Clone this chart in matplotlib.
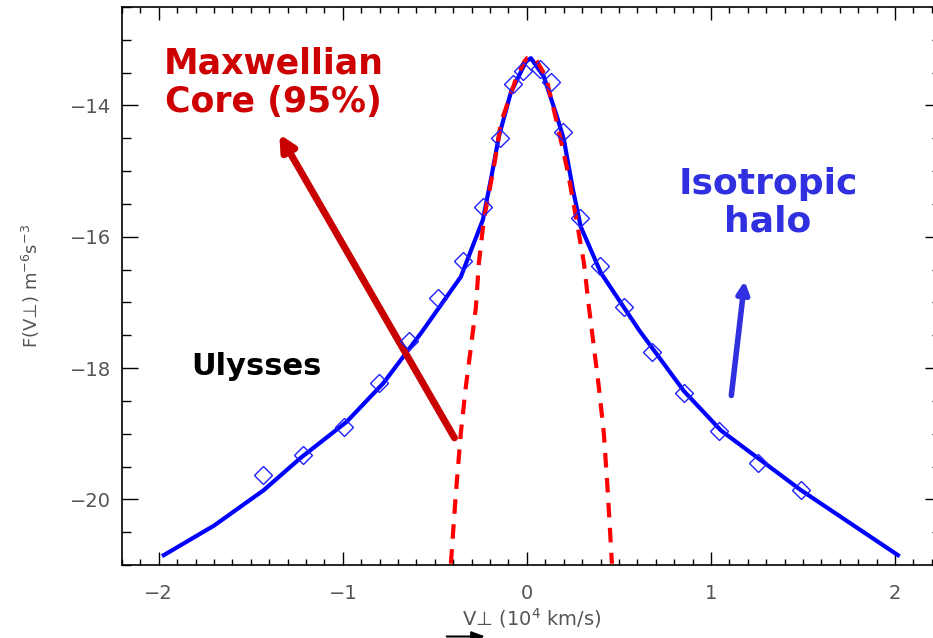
import matplotlib
matplotlib.use("Agg")
import matplotlib.pyplot as plt
from matplotlib.ticker import MultipleLocator

# halo fit (blue solid)
v_fit = [-1.973, -1.70, -1.43, -1.23, -0.98, -0.78, -0.576, -0.359, -0.239, -0.196, -0.152,
         -0.087, -0.005, 0.022, 0.092, 0.168, 0.201, 0.25, 0.293, 0.402, 0.609, 0.853, 1.054,
         1.489, 2.016]
f_fit = [-20.85, -20.40, -19.86, -19.37, -18.82, -18.23, -17.47, -16.61, -15.74, -15.13, -14.47,
         -13.80, -13.33, -13.28, -13.56, -14.21, -14.52, -15.28, -15.85, -16.55, -17.42, -18.35,
         -18.95, -19.86, -20.85]

# maxwellian core (red dashed)
v_core = [-0.413, -0.386, -0.359, -0.332, -0.304, -0.277, -0.261, -0.234, -0.179, -0.141, -0.103,
          -0.06, -0.016, 0.0, 0.045, 0.103, 0.168, 0.223, 0.266, 0.31, 0.337, 0.364, 0.391, 0.418,
          0.44, 0.462]
f_core = [-20.98, -19.91, -18.99, -18.29, -17.68, -17.07, -16.40, -15.74, -14.93, -14.26, -13.95,
          -13.60, -13.34, -13.28, -13.28, -13.56, -14.32, -15.02, -15.69, -16.40, -17.07, -17.68,
          -18.29, -18.99, -19.91, -20.98]

# Ulysses measurements (diamonds)
v_obs = [-1.435, -1.217, -0.995, -0.804, -0.641, -0.484, -0.348, -0.239, -0.147, -0.076, -0.022,
         0.071, 0.130, 0.196, 0.288, 0.397, 0.527, 0.679, 0.853, 1.043, 1.255, 1.489]
f_obs = [-19.63, -19.33, -18.90, -18.23, -17.59, -16.93, -16.37, -15.54, -14.49, -13.68, -13.48,
         -13.45, -13.65, -14.40, -15.71, -16.44, -17.07, -17.76, -18.38, -18.96, -19.45, -19.86]

fig = plt.figure(figsize=(9.33, 6.38), dpi=100)
ax = fig.add_axes([122/933, 1-565/638, 819/933, 558/638])

ax.plot(v_fit, f_fit, color='#0000ff', lw=3, zorder=3)
ax.plot(v_core, f_core, color='#ff0000', lw=3, ls=(0, (3.5, 2.5)), zorder=4)
ax.plot(v_obs, f_obs, ls='none', marker='D', ms=9, mfc='none', mec='#2020ff', mew=1, zorder=5)

ax.set_xlim(-2.2, 2.25)
ax.set_ylim(-21, -12.5)
ax.xaxis.set_major_locator(MultipleLocator(1))
ax.xaxis.set_minor_locator(MultipleLocator(0.1))
ax.yaxis.set_major_locator(MultipleLocator(2))
ax.yaxis.set_minor_locator(MultipleLocator(0.5))
ax.tick_params(which='both', direction='in', top=True, right=True, color='black', width=1)
ax.tick_params(axis='x', which='major', length=9.5, pad=14, labelsize=14, labelcolor='#555555')
ax.tick_params(axis='x', which='minor', length=4.5)
ax.tick_params(axis='y', which='major', length=11.5, pad=8, labelsize=14, labelcolor='#555555')
ax.tick_params(axis='y', which='minor', length=6.5)
for s in ax.spines.values():
    s.set_linewidth(1.2)

ax.set_xlabel(r'V⊥ (10$^4$ km/s)', fontsize=14, color='#555555', labelpad=2)
ax.set_ylabel(r'F(V⊥) m$^{-6}$s$^{-3}$', fontsize=13, color='#555555', labelpad=20)

# annotations
ax.text(-1.375, -13.65, 'Maxwellian\nCore (95%)', color='#cc0000', fontsize=25,
        fontweight='bold', ha='center', va='center', linespacing=1.15)
ax.annotate('', xy=(-1.353, -14.40), xytext=(-0.386, -19.10),
            arrowprops=dict(arrowstyle='-|>,head_length=0.9,head_width=0.45', color='#c80000', lw=5))
ax.text(1.31, -15.48, 'Isotropic\nhalo', color='#3030e0', fontsize=26,
        fontweight='bold', ha='center', va='center', linespacing=1.15)
ax.annotate('', xy=(1.185, -16.63), xytext=(1.109, -18.46),
            arrowprops=dict(arrowstyle='-|>,head_length=0.7,head_width=0.35', color='#3030e0', lw=4))
ax.text(-1.467, -17.98, 'Ulysses', color='black', fontsize=22, fontweight='bold',
        ha='center', va='center')

# little vector arrow under the V of the x label
ax.annotate('', xy=(488, 1.5), xytext=(444, 1.5), xycoords='figure pixels',
            textcoords='figure pixels', annotation_clip=False,
            arrowprops=dict(arrowstyle='-|>,head_length=0.8,head_width=0.3', color='black', lw=1.5))

fig.savefig('out.png', dpi=100)
